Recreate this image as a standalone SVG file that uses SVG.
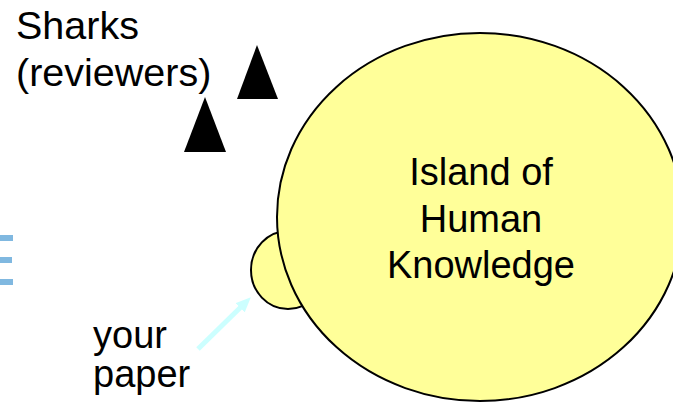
<svg xmlns="http://www.w3.org/2000/svg" width="673" height="402" viewBox="0 0 673 402">
<style>
.land{fill:#ffff99;stroke:#000;stroke-width:2}
.lbl{font-family:"Liberation Sans",Arial,sans-serif;font-size:38px;fill:#000}
.big{font-size:39.5px}
.shark{fill:#000}
.bar{fill:#80b8e0}
</style>
<defs>
<marker id="ah" markerWidth="3" markerHeight="2.6" refX="1.5" refY="1.3" orient="auto" markerUnits="strokeWidth">
<path d="M0,0 L3,1.3 L0,2.6 Z" fill="#ccffff"/>
</marker>
</defs>
<rect width="673" height="402" fill="#fff"/>
<g id="edge-bars">
<rect class="bar" x="0" y="235" width="13" height="6"/>
<rect class="bar" x="0" y="257" width="12" height="6"/>
<rect class="bar" x="0" y="279" width="13" height="6"/>
</g>
<g id="your-paper">
<ellipse class="land" cx="288" cy="270" rx="37" ry="39"/>
</g>
<g id="island">
<ellipse class="land" cx="480" cy="217" rx="203" ry="184"/>
<text class="lbl" text-anchor="middle" x="481" y="185">Island of</text>
<text class="lbl" text-anchor="middle" x="481" y="232">Human</text>
<text class="lbl" text-anchor="middle" x="481" y="278">Knowledge</text>
</g>
<g id="sharks">
<polygon class="shark" points="257,45 278,99 237,99"/>
<polygon class="shark" points="205,97 226,152 184,152"/>
<text class="lbl big" x="16" y="39">Sharks</text>
<text class="lbl big" x="16" y="86">(reviewers)</text>
</g>
<g id="paper-label">
<text class="lbl" x="93" y="348">your</text>
<text class="lbl" x="93" y="387">paper</text>
</g>
<g id="connectors">
<line x1="198" y1="349" x2="245.5" y2="302.5" stroke="#ccffff" stroke-width="5" marker-end="url(#ah)"/>
</g>
</svg>
